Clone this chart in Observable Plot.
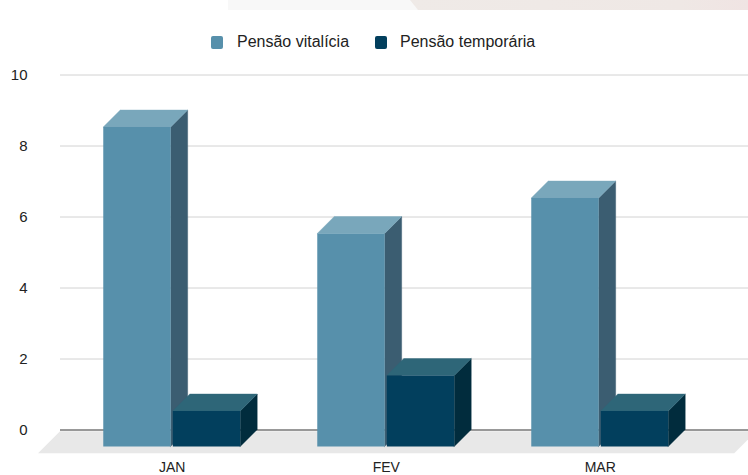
<!DOCTYPE html>
<html>
<head>
<meta charset="utf-8">
<script src="https://cdn.jsdelivr.net/npm/d3@7"></script>
<script src="https://cdn.jsdelivr.net/npm/@observablehq/plot@0.6"></script>
<style>
  body { margin: 0; background: #fff; font-family: "Liberation Sans", Arial, sans-serif; }
  #wrap { position: relative; width: 748px; height: 475px; overflow: hidden; background: #fff; }
  .strip1 { position: absolute; left: 228px; top: 0; width: 190px; height: 10px; background: #f8f8f8; }
  .strip2 { position: absolute; left: 408px; top: 0; width: 340px; height: 10px;
            background: linear-gradient(90deg, #efeae7, #efe8e5 80%, #f0e4e3);
            clip-path: polygon(2px 0, 100% 0, 100% 100%, 10px 100%); }
  #chart { position: absolute; left: 0; top: 0; }
  .lg-sw { position: absolute; width: 12px; height: 13px; border-radius: 2px; top: 35.5px; }
  .lg-tx { position: absolute; font-size: 16px; line-height: 16px; top: 33.5px; color: #222; white-space: nowrap; }
</style>
</head>
<body>
<div id="wrap">
  <div class="strip1"></div>
  <div class="strip2"></div>
  <div id="chart"></div>
  <div id="legend"></div>
</div>
<script>
// ---- data ----
const months = ["JAN", "FEV", "MAR"];
const seriesNames = ["Pensão vitalícia", "Pensão temporária"];
const vitalicia = [9, 6, 7];
const temporaria = [1, 2, 1];
const yTicks = [0, 2, 4, 6, 8, 10];

// ---- styles ----
const palette = [
  {front: "#5790ab", top: "#79a7bb", side: "#3b5d71"},
  {front: "#023f5d", top: "#2e6678", side: "#012c3d"}
];

// ---- layout constants (in scale units) ----
const PX_X = 214;          // px per category unit
const PX_Y = 35.5;         // px per value unit
const DX = 17 / PX_X, DY = 17 / PX_Y;        // bar depth
const FDX = 22 / PX_X, FDY = 22 / PX_Y;      // floor depth
const barW = 0.315, gap = 0.005;

const values = [vitalicia, temporaria];
const bars = [];
values.forEach((vals, s) => {
  vals.forEach((v, i) => {
    const x1 = s === 0 ? i + 0.5 - gap - barW : i + 0.5 + gap;
    bars.push({s, i, v, x1, x2: x1 + barW, id: `${s}-${i}`});
  });
});

function faces(s) {
  const b = bars.filter(d => d.s === s);
  const front = b.map(d => ({x1: d.x1 - DX, x2: d.x2 - DX, y1: -DY, y2: d.v - DY}));
  const top = b.flatMap(d => [
    {y: d.v - DY, x1: d.x1 - DX, x2: d.x2 - DX, z: d.id},
    {y: d.v, x1: d.x1, x2: d.x2, z: d.id}
  ]);
  const side = b.flatMap(d => [
    {x: d.x2 - DX, y1: -DY, y2: d.v - DY, z: d.id},
    {x: d.x2, y1: 0, y2: d.v, z: d.id}
  ]);
  const c = palette[s];
  return [
    Plot.area(side, {x1: "x", y1: "y1", y2: "y2", z: "z", fill: c.side, stroke: c.side, strokeWidth: 0.4}),
    Plot.area(top, {y1: "y", x1: "x1", x2: "x2", z: "z", fill: c.top, stroke: c.top, strokeWidth: 0.4}),
    Plot.rect(front, {x1: "x1", x2: "x2", y1: "y1", y2: "y2", fill: c.front})
  ];
}

const xLeft = -21.75 / PX_X, xRight = 3 + 28.25 / PX_X;
const floor = [
  {y: -0.05 - FDY, x1: xLeft - FDX, x2: xRight - FDX + 0.02},
  {y: -0.05, x1: xLeft, x2: xRight + 0.02}
];

const chart = Plot.plot({
  width: 748,
  height: 475,
  marginLeft: 60,
  marginRight: 0,
  marginTop: 0,
  marginBottom: 20,
  x: {domain: [0, 3], range: [81.75, 81.75 + 3 * PX_X], axis: null},
  y: {domain: [0, 10], range: [429.5, 429.5 - 10 * PX_Y], axis: null},
  style: {fontFamily: '"Liberation Sans", Arial, sans-serif', color: "#222", background: "transparent", overflow: "visible"},
  marks: [
    Plot.area(floor, {y1: "y", x1: "x1", x2: "x2", fill: "#e8e8e8"}),
    Plot.ruleY(yTicks.filter(d => d !== 0), {stroke: "#d2d2d2", strokeWidth: 1}),
    Plot.ruleY([0], {stroke: "#333", strokeWidth: 1}),
    Plot.axisY(yTicks, {tickSize: 0, tickPadding: 33, fontSize: 15, label: null, fill: "#222"}),
    Plot.axisX(months.map((m, i) => i + 0.5), {
      tickSize: 0, tickPadding: 7, fontSize: 14, label: null, dx: -17, fill: "#222",
      tickFormat: d => months[Math.round(d - 0.5)]
    }),
    ...faces(0),
    ...faces(1)
  ]
});
document.getElementById("chart").appendChild(chart);

// ---- legend ----
const legend = document.getElementById("legend");
const lgPos = [{sw: 211, tx: 237}, {sw: 374.5, tx: 400}];
seriesNames.forEach((name, s) => {
  const sw = document.createElement("div");
  sw.className = "lg-sw";
  sw.style.left = lgPos[s].sw + "px";
  sw.style.background = palette[s].front;
  legend.appendChild(sw);
  const tx = document.createElement("div");
  tx.className = "lg-tx";
  tx.style.left = lgPos[s].tx + "px";
  tx.textContent = name;
  legend.appendChild(tx);
});
</script>
</body>
</html>
